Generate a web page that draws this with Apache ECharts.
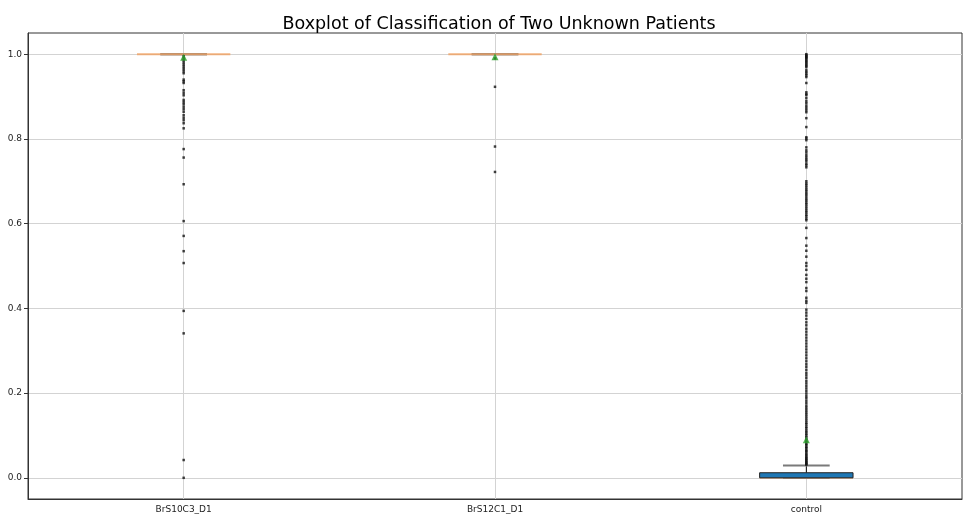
<!DOCTYPE html>
<html>
<head>
<meta charset="utf-8">
<script src="https://cdn.jsdelivr.net/npm/echarts@6/dist/echarts.min.js"></script>
<style>
  html, body { margin: 0; padding: 0; background: #fff; }
  #chart { width: 964px; height: 519px; }
</style>
</head>
<body>
<div id="chart"></div>
<script>
const categories = ['BrS10C3_D1', 'BrS12C1_D1', 'control']

// [min whisker, Q1, median, Q3, max whisker]
const boxStats = [
  [1.0, 1.0, 1.0, 1.0, 1.0],
  [1.0, 1.0, 1.0, 1.0, 1.0],
  [0.0, 0.0, 0.001, 0.012, 0.029]
]

const means = [0.993, 0.994, 0.09]

const outliersA = [
  0.0, 0.042, 0.341, 0.394, 0.507, 0.535, 0.571, 0.606, 0.693, 0.756, 0.776,
  0.825, 0.837, 0.844, 0.85, 0.856, 0.864, 0.87, 0.876, 0.882, 0.887, 0.892,
  0.903, 0.909, 0.915, 0.932, 0.936, 0.94, 0.955, 0.96, 0.965, 0.97, 0.975,
  0.98, 0.985, 0.99, 0.995
]

const outliersB = [0.722, 0.782, 0.923, 0.99]

const outliersC = [
  0.031, 0.033, 0.035, 0.037, 0.04, 0.042, 0.045, 0.047, 0.05, 0.053, 0.056,
  0.06, 0.063, 0.066, 0.07, 0.073, 0.077, 0.08, 0.084, 0.088, 0.092, 0.096,
  0.1, 0.104, 0.108, 0.112, 0.117, 0.121, 0.126, 0.13, 0.135, 0.14, 0.145,
  0.15, 0.155, 0.16, 0.165, 0.17, 0.176, 0.182, 0.188, 0.193, 0.199, 0.205,
  0.211, 0.217, 0.223, 0.229, 0.236, 0.242, 0.248, 0.255, 0.262, 0.268,
  0.275, 0.282, 0.289, 0.296, 0.303, 0.31, 0.317, 0.324, 0.331, 0.338, 0.345,
  0.352, 0.36, 0.367, 0.375, 0.383, 0.39, 0.397, 0.413, 0.418, 0.425,
  0.441, 0.448, 0.462, 0.47, 0.479, 0.491, 0.5, 0.507, 0.522, 0.536, 0.548,
  0.566, 0.59,
  0.608, 0.612, 0.617, 0.621, 0.626, 0.63, 0.635, 0.64, 0.645, 0.649, 0.654,
  0.658, 0.663, 0.668, 0.672, 0.677, 0.681, 0.686, 0.691, 0.695, 0.7,
  0.733, 0.738, 0.742, 0.748, 0.752, 0.757, 0.762, 0.768, 0.773, 0.78,
  0.797, 0.801, 0.804, 0.828, 0.849, 0.863, 0.868, 0.873, 0.878, 0.884,
  0.889, 0.896, 0.903, 0.906, 0.91, 0.932, 0.946, 0.95, 0.954, 0.958, 0.962,
  0.969, 0.972, 0.975, 0.978, 0.981, 0.984, 0.987, 0.99, 0.992, 0.994, 0.996,
  0.998, 1.0
]

const outliers = [outliersA, outliersB, outliersC]

const myChart = echarts.init(document.getElementById('chart'))

const renderBox = (params, api) => {
  const x = api.value(0)
  const band = api.size([1, 0])[0]
  const boxW = band * 0.3
  const capW = band * 0.15
  const p = v => api.coord([x, v])
  const lo = p(api.value(1))
  const q1 = p(api.value(2))
  const med = p(api.value(3))
  const q3 = p(api.value(4))
  const hi = p(api.value(5))
  const cx = lo[0]
  const line = (x1, y1, x2, y2, style) => ({
    type: 'line',
    shape: { x1, y1, x2, y2 },
    style
  })
  const whisker = { stroke: '#000', lineWidth: 1 }
  const cap = { stroke: '#7a7a7a', lineWidth: 2 }
  const children = [
    line(cx, q1[1], cx, lo[1], whisker),
    line(cx, q3[1], cx, hi[1], whisker),
    line(cx - capW / 2, lo[1], cx + capW / 2, lo[1], cap),
    line(cx - capW / 2, hi[1], cx + capW / 2, hi[1], cap)
  ]
  const medianStyle = { stroke: '#f0a060', lineWidth: 2, opacity: 0.8 }
  if (q1[1] - q3[1] > 0.5) {
    // matplotlib style filled box; the median sits almost on the bottom edge
    children.push(line(cx - boxW / 2, med[1], cx + boxW / 2, med[1], medianStyle))
    children.push({
      type: 'rect',
      shape: { x: cx - boxW / 2, y: q3[1], width: boxW, height: q1[1] - q3[1] },
      style: { fill: '#1f77b4', stroke: '#222', lineWidth: 1 }
    })
  } else {
    children.push(line(cx - boxW / 2, med[1], cx + boxW / 2, med[1], medianStyle))
  }
  return { type: 'group', children }
}

const option = {
  animation: false,
  title: {
    text: 'Boxplot of Classification of Two Unknown Patients',
    left: 494,
    textAlign: 'center',
    top: 10,
    textStyle: {
      fontFamily: 'DejaVu Sans',
      fontSize: 17.5,
      fontWeight: 'normal',
      color: '#000'
    }
  },
  grid: {
    left: 28,
    right: 2,
    top: 33,
    bottom: 20,
    show: true,
    borderColor: '#333',
    borderWidth: 1
  },
  xAxis: {
    type: 'category',
    data: categories,
    boundaryGap: true,
    axisLine: { onZero: false, lineStyle: { color: '#333' } },
    axisTick: { alignWithLabel: true, length: 4, lineStyle: { color: '#333' } },
    axisLabel: {
      fontFamily: 'DejaVu Sans',
      fontSize: 9,
      color: '#222',
      margin: 6
    },
    splitLine: { show: false }
  },
  yAxis: {
    type: 'value',
    min: -0.05,
    max: 1.05,
    splitNumber: 5,
    axisLine: { show: true, lineStyle: { color: '#333' } },
    axisTick: { show: true, length: 4, lineStyle: { color: '#333' } },
    axisLabel: {
      fontFamily: 'DejaVu Sans',
      fontSize: 9,
      color: '#222',
      margin: 6,
      showMinLabel: false,
      showMaxLabel: false,
      formatter: v => v.toFixed(1)
    },
    splitLine: {
      show: true,
      showMinLine: false,
      showMaxLine: false,
      lineStyle: { color: '#d3d3d3', width: 1 }
    }
  },
  series: [
    {
      type: 'custom',
      name: 'box',
      renderItem: renderBox,
      z: 3,
      encode: { x: 0, y: [1, 2, 3, 4, 5] },
      data: boxStats.map((s, i) => [i].concat(s)),
      markLine: {
        silent: true,
        symbol: ['none', 'none'],
        z: 1,
        label: { show: false },
        lineStyle: { color: '#d3d3d3', type: 'solid', width: 1 },
        data: categories.map(c => ({ xAxis: c }))
      }
    },
    {
      type: 'scatter',
      name: 'outliers',
      symbol: 'rect',
      symbolSize: 2.5,
      z: 4,
      itemStyle: { color: '#111' },
      data: outliers.flatMap((arr, i) => arr.map(v => [i, v]))
    },
    {
      type: 'scatter',
      name: 'mean',
      symbol: 'triangle',
      symbolSize: 7,
      z: 5,
      itemStyle: { color: '#2ca02c' },
      data: means.map((m, i) => [i, m])
    }
  ]
}

myChart.setOption(option)
</script>
</body>
</html>
